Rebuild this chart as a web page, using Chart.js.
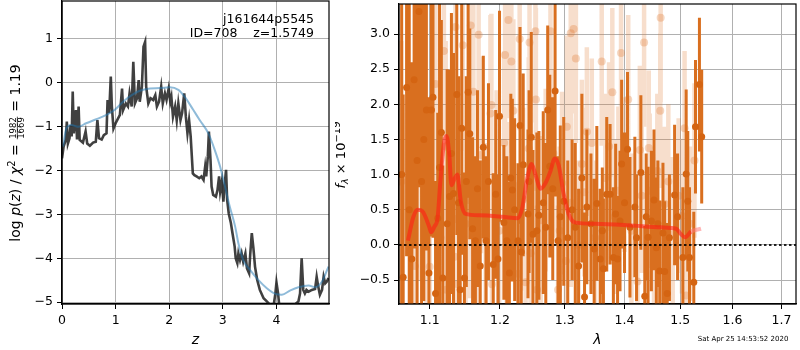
<!DOCTYPE html>
<html>
<head>
<meta charset="utf-8">
<script src="https://cdn.jsdelivr.net/npm/chart.js@4.4.0/dist/chart.umd.min.js"></script>
<style>
  html, body { margin: 0; padding: 0; background: #fff; }
  #wrap { position: relative; width: 800px; height: 350px; }
  #pz { position: absolute; left: 0; top: 0; }
  #spec { position: absolute; left: 335px; top: 0; }
</style>
</head>
<body>
<div id="wrap">
  <canvas id="pz" width="335" height="350"></canvas>
  <canvas id="spec" width="465" height="350"></canvas>
</div>
<script>
// ---- left panel: log p(z) ----
const zRaw = [
  0, 0.03, 0.07, 0.09, 0.11, 0.14, 0.16, 0.18, 0.20, 0.22,
  0.26, 0.28, 0.31, 0.33, 0.39, 0.44, 0.47, 0.52, 0.58, 0.63,
  0.66, 0.69, 0.74, 0.78, 0.83, 0.85, 0.88, 0.91, 0.93, 0.96,
  1.00, 1.08, 1.12, 1.14, 1.19, 1.23, 1.26, 1.30, 1.33, 1.36,
  1.40, 1.43, 1.45, 1.49, 1.52, 1.55, 1.57, 1.61, 1.65, 1.70,
  1.74, 1.77, 1.81, 1.85, 1.88, 1.92, 1.95, 1.99, 2.02, 2.04,
  2.07, 2.11, 2.14, 2.17, 2.21, 2.24, 2.28, 2.31, 2.34, 2.37,
  2.40, 2.44, 2.47, 2.51, 2.56, 2.60, 2.64, 2.67, 2.69, 2.72,
  2.74, 2.77, 2.79, 2.82, 2.87, 2.90, 2.93, 2.95, 2.98, 3.01,
  3.03, 3.06, 3.08, 3.11, 3.15, 3.18, 3.22, 3.24, 3.27, 3.29,
  3.32, 3.35, 3.38, 3.42, 3.45, 3.49, 3.51, 3.54, 3.57, 3.60,
  3.64, 3.69, 3.76, 3.82, 3.88, 3.94, 3.98, 4.00, 4.03, 4.06,
  4.26, 4.41, 4.44, 4.47, 4.50, 4.53, 4.56, 4.60, 4.66, 4.72,
  4.75, 4.78, 4.81, 4.85, 4.88, 4.91, 4.94, 4.97
];
const logpRaw = [
  -1.73, -1.46, -1.31, -0.89, -1.39, -1.27, -0.97, -1.23, -0.21, -1.16,
  -0.63, -1.30, -0.55, -1.31, -1.37, -1.12, -1.39, -1.44, -1.37, -1.35,
  -0.86, -1.27, -1.30, -1.20, -1.16, -0.40, -0.70, 0.13, -0.55, -1.05,
  -0.93, -0.74, -0.14, -0.63, -0.48, -0.55, -0.25, -0.55, 0.47, -0.48,
  -0.36, 0.05, -0.44, -0.10, 0.81, 0.92, -0.10, -0.48, -0.36, -0.40,
  -0.29, -0.55, -0.44, -0.10, -0.48, -0.25, -0.40, -0.14, -0.44, -0.33,
  -0.78, -0.55, -0.86, -0.48, -0.86, -0.70, -0.25, -0.78, -1.16, -0.86,
  -1.23, -2.07, -2.11, -2.14, -2.18, -2.14, -2.22, -1.92, -2.14, -1.69,
  -1.12, -1.77, -2.37, -2.56, -2.60, -2.45, -2.14, -2.48, -2.26, -2.71,
  -2.37, -1.99, -2.67, -2.98, -3.20, -3.43, -3.73, -4.00, -4.11, -3.89,
  -4.04, -3.89, -4.08, -3.89, -4.23, -4.34, -3.92, -3.43, -3.77, -4.19,
  -4.49, -4.72, -4.91, -4.98, -5.06, -5.14, -4.80, -4.55, -4.80, -5.17,
  -5.14, -4.98, -4.80, -4.00, -4.72, -4.80, -4.72, -4.76, -4.72, -4.70,
  -4.42, -4.65, -4.83, -4.72, -4.42, -4.57, -4.53, -4.45
];
const zSmooth = [
  0.02, 0.08, 0.17, 0.30, 0.45, 0.64, 0.83, 0.98, 1.14, 1.30,
  1.45, 1.64, 1.83, 2.01, 2.17, 2.29, 2.45, 2.57, 2.73, 2.85,
  2.95, 3.04, 3.13, 3.23, 3.29, 3.38, 3.51, 3.66, 3.82, 3.98,
  4.10, 4.26, 4.41, 4.60, 4.72, 4.85, 4.97
];
const logpSmooth = [
  -1.46, -1.05, -0.97, -1.01, -0.93, -0.84, -0.74, -0.63, -0.44, -0.29,
  -0.19, -0.14, -0.13, -0.11, -0.17, -0.33, -0.63, -0.86, -1.16, -1.54,
  -1.92, -2.37, -2.83, -3.28, -3.66, -4.04, -4.27, -4.49, -4.68, -4.81,
  -4.83, -4.73, -4.66, -4.62, -4.66, -4.53, -4.19
];
const zTicks = [0, 1, 2, 3, 4];
const logpTicks = [-5, -4, -3, -2, -1, 0, 1];

// ---- right panel: spectrum ----
const darkWave = [
  1.0625, 1.0645, 1.069, 1.0725, 1.076, 1.079, 1.083, 1.0855, 1.089, 1.092,
  1.0955, 1.099, 1.1023, 1.1045, 1.108, 1.111, 1.1135, 1.116, 1.118, 1.124,
  1.1274, 1.130, 1.1329, 1.1375, 1.140, 1.1423, 1.1445, 1.1483, 1.151, 1.1536,
  1.156, 1.160, 1.164, 1.167, 1.171, 1.1755, 1.1794, 1.183, 1.190, 1.1937,
  1.197, 1.1993, 1.2058, 1.2102, 1.214, 1.2162, 1.2185, 1.222, 1.2271, 1.2301,
  1.232, 1.235, 1.2423, 1.244, 1.2474, 1.250, 1.256, 1.2592, 1.266, 1.270,
  1.273, 1.2763, 1.281, 1.2847, 1.2894, 1.293, 1.2985, 1.305, 1.312, 1.3172,
  1.3226, 1.328, 1.3324, 1.3362, 1.343, 1.3484, 1.3528, 1.3585, 1.362, 1.3639,
  1.3695, 1.3752, 1.3808, 1.3847, 1.388, 1.3922, 1.395, 1.400, 1.4052, 1.4094,
  1.418, 1.421, 1.4286, 1.4355, 1.438, 1.4414, 1.4473, 1.452, 1.4562, 1.459,
  1.4623, 1.4682, 1.4713, 1.476, 1.480, 1.4895, 1.495, 1.5048, 1.511, 1.514,
  1.5172, 1.5253, 1.5285, 1.536, 1.5403
];
const darkFlux = [
  1.0, -0.46, 2.24, 0.5, -0.2, 2.35, 1.2, 3.32, 0.9, 1.5,
  1.92, -0.4, 1.92, 2.10, -0.69, 0.38, 1.1, 1.60, -0.47, 0.3,
  0.69, 1.3, 0.73, 2.14, 0.6, -0.64, 1.66, -0.47, 0.9, 2.17,
  1.58, 0.23, 0.06, 0.8, -0.3, 1.39, 0.06, 0.9, -0.28, 0.72,
  -0.2, 1.83, 0.32, 0.06, -0.4, 0.95, 0.78, 0.5, 0.06, 1.70,
  -0.1, 1.14, 0.44, 0.9, 1.53, 0.15, 0.2, 0.42, 0.6, 0.25,
  1.92, 1.12, 0.8, 2.19, 0.06, 0.4, 0.62, 0.1, 0.5, 0.25,
  -0.30, 0.95, -0.74, 0.54, 0.3, -0.06, 0.59, -0.20, 0.2, -0.34,
  0.72, 0.72, -0.18, 0.44, -0.2, 0.34, 1.15, 0.6, 1.36, 0.25,
  0.54, 0.1, 1.03, -0.73, 0.4, 0.11, 0.34, 0.64, -0.04, 0.3,
  -0.37, 0.17, -0.38, -0.69, 0.1, 0.71, 0.4, -0.18, 1.01, 0.62,
  -0.18, -0.53, 1.68, 2.28, 1.54
];
const darkErr = [
  3.0, 2.6, 2.4, 3.0, 2.8, 2.4, 2.5, 2.5, 2.8, 2.3,
  2.0, 2.5, 1.8, 2.0, 1.6, 1.5, 2.4, 1.6, 1.6, 2.2,
  1.8, 2.0, 2.0, 2.0, 1.8, 1.5, 1.8, 1.5, 1.5, 1.5,
  1.5, 1.3, 1.2, 1.4, 1.5, 1.3, 1.2, 1.4, 1.3, 1.2,
  1.2, 1.5, 1.1, 1.2, 1.3, 1.2, 1.3, 1.3, 1.1, 1.4,
  1.2, 1.3, 1.2, 1.3, 1.5, 1.2, 1.4, 1.2, 1.3, 1.2,
  1.2, 1.3, 1.3, 1.5, 1.2, 1.3, 1.2, 1.1, 1.0, 1.2,
  1.1, 1.2, 1.2, 1.1, 1.0, 1.0, 1.1, 1.0, 0.9, 1.0,
  1.1, 1.0, 1.0, 1.0, 0.9, 1.0, 1.2, 1.0, 1.1, 1.0,
  1.0, 0.9, 1.1, 1.0, 0.9, 1.0, 1.0, 1.0, 1.0, 0.9,
  1.0, 1.0, 1.0, 1.0, 0.9, 1.0, 0.9, 1.0, 1.2, 1.0,
  1.0, 1.0, 0.95, 0.95, 0.95
];
const lightWave = [
  1.062, 1.0746, 1.080, 1.087, 1.0955, 1.100, 1.108, 1.1099, 1.115, 1.1195,
  1.122, 1.1228, 1.128, 1.1343, 1.1357, 1.137, 1.139, 1.1459, 1.150, 1.155,
  1.1573, 1.1611, 1.166, 1.1687, 1.1721, 1.179, 1.1859, 1.1873, 1.1882, 1.195,
  1.1988, 1.2062, 1.2076, 1.210, 1.2126, 1.2170, 1.2200, 1.2274, 1.2296, 1.235,
  1.2386, 1.2435, 1.2447, 1.2463, 1.2538, 1.2545, 1.2563, 1.262, 1.2698, 1.2774,
  1.282, 1.2894, 1.292, 1.2958, 1.302, 1.3035, 1.3098, 1.310, 1.3145, 1.3182,
  1.322, 1.328, 1.332, 1.3362, 1.3444, 1.350, 1.361, 1.367, 1.3735, 1.379,
  1.383, 1.3894, 1.394, 1.400, 1.4064, 1.412, 1.4226, 1.4268, 1.430, 1.4343,
  1.4426, 1.4443, 1.452, 1.458, 1.4633, 1.464, 1.4713, 1.478, 1.486, 1.497,
  1.503, 1.508, 1.511, 1.518, 1.5266
];
const lightFlux = [
  0.9, 0.63, -0.3, 1.3, 0.33, -0.31, 2.29, 0.80, 0.1, 2.76,
  1.40, -0.64, 1.0, -0.17, 3.10, 0.37, -0.56, 2.84, 0.3, 0.64,
  3.12, 2.18, -0.3, 2.99, 1.28, 0.15, 1.87, 1.99, -0.56, 0.9,
  0.20, 1.45, 2.70, 0.45, 3.20, 2.61, 1.91, -0.41, 2.93, 0.65,
  -0.53, 1.37, 2.88, -0.12, 3.04, 2.07, -0.64, 0.35, 0.92, 3.04,
  1.3, -0.64, 0.2, 0.88, -0.23, 1.68, 3.01, 0.6, 3.07, 2.65,
  0.0, 1.15, 0.75, 1.61, 1.45, 0.1, 2.61, 0.95, 1.40, 2.17,
  0.4, 0.77, 2.73, 1.0, 2.07, 0.2, -0.52, 1.35, 0.7, 2.88,
  1.38, 0.77, 0.2, 1.05, 1.91, 3.23, 0.58, 0.9, 0.15, 0.7,
  0.41, 1.66, -0.72, 0.3, 1.20
];
const lightErr = [
  2.0, 1.8, 1.5, 1.8, 1.5, 1.5, 1.5, 1.5, 1.3, 1.5,
  1.5, 1.4, 1.4, 1.5, 1.5, 1.4, 1.3, 1.5, 1.3, 1.4,
  1.4, 1.4, 1.3, 1.4, 1.4, 1.3, 1.4, 1.3, 1.3, 1.3,
  1.3, 1.3, 1.4, 1.3, 1.4, 1.3, 1.3, 1.3, 1.3, 1.3,
  1.3, 1.3, 1.3, 1.3, 1.3, 1.3, 1.2, 1.2, 1.3, 1.3,
  1.2, 1.2, 1.2, 1.3, 1.2, 1.3, 1.3, 1.2, 1.2, 1.2,
  1.2, 1.2, 1.2, 1.2, 1.2, 1.1, 1.2, 1.2, 1.2, 1.2,
  1.1, 1.2, 1.2, 1.1, 1.2, 1.1, 1.1, 1.2, 1.1, 1.2,
  1.1, 1.1, 1.1, 1.1, 1.1, 1.2, 1.1, 1.1, 1.1, 1.1,
  1.1, 1.1, 1.1, 1.1, 1.1
];
const modelWave = [
  1.0708, 1.0780, 1.0839, 1.0900, 1.0996, 1.1018, 1.1064, 1.1109, 1.1146, 1.1199,
  1.1232, 1.1270, 1.1300, 1.1347, 1.1384, 1.1432, 1.1502, 1.1697, 1.2037, 1.2271,
  1.2336, 1.2412, 1.2480, 1.2538, 1.2618, 1.2696, 1.2774, 1.2842, 1.2905, 1.2985,
  1.3065, 1.3161, 1.3500, 1.4064, 1.4652, 1.4924, 1.5016, 1.5090, 1.5202, 1.5390
];
const modelFlux = [
  0.06, 0.40, 0.50, 0.48, 0.25, 0.18, 0.26, 0.39, 0.90, 1.47,
  1.55, 1.28, 0.85, 0.95, 1.00, 0.62, 0.44, 0.42, 0.40, 0.38,
  0.53, 0.95, 1.15, 1.00, 0.80, 0.88, 1.05, 1.23, 1.13, 0.72,
  0.44, 0.32, 0.30, 0.28, 0.25, 0.23, 0.15, 0.11, 0.19, 0.23
];
const waveTicks = [1.1, 1.2, 1.3, 1.4, 1.5, 1.6, 1.7];
const fluxTicks = [-0.5, 0, 0.5, 1.0, 1.5, 2.0, 2.5, 3.0];

const objName = 'j161644p5545';
const objInfo = 'ID=708    z=1.5749';
const stamp = 'Sat Apr 25 14:53:52 2020';

const FONT = '"DejaVu Sans"';
Chart.defaults.font.family = FONT;
Chart.defaults.color = '#000';

const minus = v => (v < 0 ? '\u2212' : '') + Math.abs(v);

function pairs(xs, ys) {
  return xs.map((x, i) => ({ x, y: ys[i] }));
}

// error bars as one broken line: low -> high -> gap
function errSegments(w, f, e) {
  const pts = [];
  w.forEach((x, i) => {
    pts.push({ x, y: f[i] - e[i] }, { x, y: f[i] + e[i] }, { x, y: null });
  });
  return pts;
}

function axisStyle(ticks, fmt) {
  return {
    afterBuildTicks: s => { s.ticks = ticks.map(v => ({ value: v })); },
    grid: { color: '#b0b0b0', lineWidth: 1, tickLength: 5, tickColor: '#000', tickWidth: 1 },
    border: { display: true, color: '#000', width: 1.2 },
    ticks: { font: { size: 12.5 }, color: '#000', padding: 4, maxRotation: 0, autoSkip: false, callback: fmt }
  };
}

// fixed axis box, no extra room reserved for overhanging labels
const fitX = s => { s.height = 46; s.paddingLeft = 0; s.paddingRight = 0; };
const fitY = w => s => { s.width = w; s.paddingTop = 0; s.paddingBottom = 0; };

// draws a run of text pieces (italic, super/subscript, stacked fraction)
function drawRuns(ctx, runs, cx, by) {
  let total = 0;
  runs.forEach(r => {
    ctx.font = r.f;
    r.w = r.frac
      ? Math.max(ctx.measureText(r.frac[0]).width, ctx.measureText(r.frac[1]).width) + 2
      : ctx.measureText(r.t).width;
    total += r.w;
  });
  let x = cx - total / 2;
  ctx.textAlign = 'left';
  ctx.textBaseline = 'alphabetic';
  runs.forEach(r => {
    ctx.font = r.f;
    if (r.frac) {
      ctx.textAlign = 'center';
      ctx.fillText(r.frac[0], x + r.w / 2, by - 3.8);
      ctx.fillText(r.frac[1], x + r.w / 2, by + 3.9);
      ctx.fillRect(x + 0.5, by - 3.1, r.w - 1, 0.7);
      ctx.textAlign = 'left';
    } else {
      ctx.fillText(r.t, x, by + (r.dy || 0));
    }
    x += r.w;
  });
}

const framePlugin = {
  id: 'frame',
  afterDraw(chart) {
    const { ctx, chartArea: a } = chart;
    ctx.save();
    ctx.strokeStyle = '#000';
    ctx.lineWidth = 1.2;
    ctx.strokeRect(a.left, a.top, a.right - a.left, a.bottom - a.top);
    ctx.restore();
  }
};

const pzLabels = {
  id: 'pzLabels',
  afterDraw(chart) {
    const { ctx, chartArea: a } = chart;
    ctx.save();
    ctx.fillStyle = '#000';
    ctx.font = '12.5px ' + FONT;
    ctx.textAlign = 'right';
    ctx.textBaseline = 'middle';
    ctx.fillText(objName, 314, 20);
    ctx.fillText(objInfo, 314, 34);
    ctx.font = 'italic 14px ' + FONT;
    ctx.textAlign = 'center';
    ctx.fillText('z', (a.left + a.right) / 2, 340);

    ctx.translate(0, 153);
    ctx.rotate(-Math.PI / 2);
    const n = '14px ' + FONT, it = 'italic 14px ' + FONT;
    drawRuns(ctx, [
      { t: 'log ', f: n }, { t: 'p', f: it }, { t: '(', f: n }, { t: 'z', f: it },
      { t: ') / ', f: n }, { t: '\u03c7', f: it }, { t: '2', f: '10px ' + FONT, dy: -5.5 },
      { t: ' = ', f: n }, { frac: ['1982', '1669'], f: '8.5px ' + FONT },
      { t: ' = 1.19', f: n }
    ], 0, 20);
    ctx.restore();
  }
};

const specLabels = {
  id: 'specLabels',
  afterDraw(chart) {
    const { ctx, chartArea: a } = chart;
    ctx.save();
    ctx.fillStyle = '#000';
    ctx.font = 'italic 14px ' + FONT;
    ctx.textAlign = 'center';
    ctx.textBaseline = 'middle';
    ctx.fillText('\u03bb', (a.left + a.right) / 2, 340);
    ctx.font = '7px ' + FONT;
    ctx.textAlign = 'left';
    ctx.fillText(stamp, 362.7, 339.5);

    ctx.translate(0, 155);
    ctx.rotate(-Math.PI / 2);
    const n = '13px ' + FONT;
    drawRuns(ctx, [
      { t: 'f', f: 'italic 13px ' + FONT }, { t: '\u03bb', f: 'italic 9.5px ' + FONT, dy: 3 },
      { t: ' \u00d7 10', f: n }, { t: '\u221219', f: '10px ' + FONT, dy: -5.5 }
    ], 0, 10);
    ctx.restore();
  }
};

new Chart(document.getElementById('pz'), {
  type: 'line',
  data: {
    datasets: [
      {
        data: pairs(zSmooth, logpSmooth),
        borderColor: 'rgba(31,119,180,0.5)',
        borderWidth: 2,
        pointRadius: 0,
        cubicInterpolationMode: 'monotone'
      },
      {
        data: pairs(zRaw, logpRaw),
        borderColor: 'rgba(30,30,30,0.85)',
        borderWidth: 2.6,
        pointRadius: 0,
        tension: 0
      }
    ]
  },
  options: {
    responsive: false,
    animation: false,
    events: [],
    layout: { padding: { top: 1, right: 6, left: 0, bottom: 0 } },
    plugins: { legend: { display: false }, tooltip: { enabled: false } },
    scales: {
      x: {
        type: 'linear', min: 0, max: 4.98,
        afterFit: fitX,
        ...axisStyle(zTicks, v => minus(v))
      },
      y: {
        type: 'linear', min: -5.04, max: 1.85,
        afterFit: fitY(62),
        ...axisStyle(logpTicks, v => minus(v))
      }
    }
  },
  plugins: [framePlugin, pzLabels]
});

const orange = 'rgb(217,111,31)';
new Chart(document.getElementById('spec'), {
  type: 'line',
  data: {
    datasets: [
      {
        data: [{ x: 1.059, y: 0 }, { x: 1.731, y: 0 }],
        borderColor: 'rgba(0,0,0,0.85)',
        borderWidth: 2,
        borderDash: [2.5, 2.5],
        pointRadius: 0
      },
      {
        data: pairs(modelWave, modelFlux),
        borderWidth: 4,
        pointRadius: 0,
        cubicInterpolationMode: 'monotone',
        borderColor: 'rgba(255,30,20,0.6)',
        segment: {
          borderColor: c => (c.p0.parsed.x >= 1.519 || c.p1.parsed.x <= 1.071)
            ? 'rgba(255,120,120,0.55)' : 'rgba(255,30,20,0.6)'
        }
      },
      {
        data: pairs(darkWave, darkFlux),
        showLine: false,
        pointRadius: 3.5,
        pointBorderWidth: 0,
        pointBackgroundColor: 'rgb(212,100,18)'
      },
      {
        data: errSegments(darkWave, darkFlux, darkErr),
        borderColor: orange,
        borderWidth: 3,
        borderCapStyle: 'butt',
        pointRadius: 0,
        spanGaps: false
      },
      {
        data: pairs(lightWave, lightFlux),
        showLine: false,
        pointRadius: 4,
        pointBorderWidth: 0,
        pointBackgroundColor: 'rgba(222,120,45,0.3)'
      },
      {
        data: errSegments(lightWave, lightFlux, lightErr),
        borderColor: 'rgba(225,125,50,0.25)',
        borderWidth: 4.5,
        borderCapStyle: 'butt',
        pointRadius: 0,
        spanGaps: false
      }
    ]
  },
  options: {
    responsive: false,
    animation: false,
    events: [],
    layout: { padding: { top: 1, right: 1, left: 0, bottom: 0 } },
    plugins: { legend: { display: false }, tooltip: { enabled: false } },
    scales: {
      x: {
        type: 'logarithmic', min: 1.059, max: 1.731,
        afterFit: fitX,
        ...axisStyle(waveTicks, v => v.toFixed(1))
      },
      y: {
        type: 'linear', min: -0.841, max: 3.427,
        afterFit: fitY(64),
        ...axisStyle(fluxTicks, v => (v < 0 ? '\u2212' : '') + Math.abs(v).toFixed(1))
      }
    }
  },
  plugins: [framePlugin, specLabels]
});
</script>
</body>
</html>
